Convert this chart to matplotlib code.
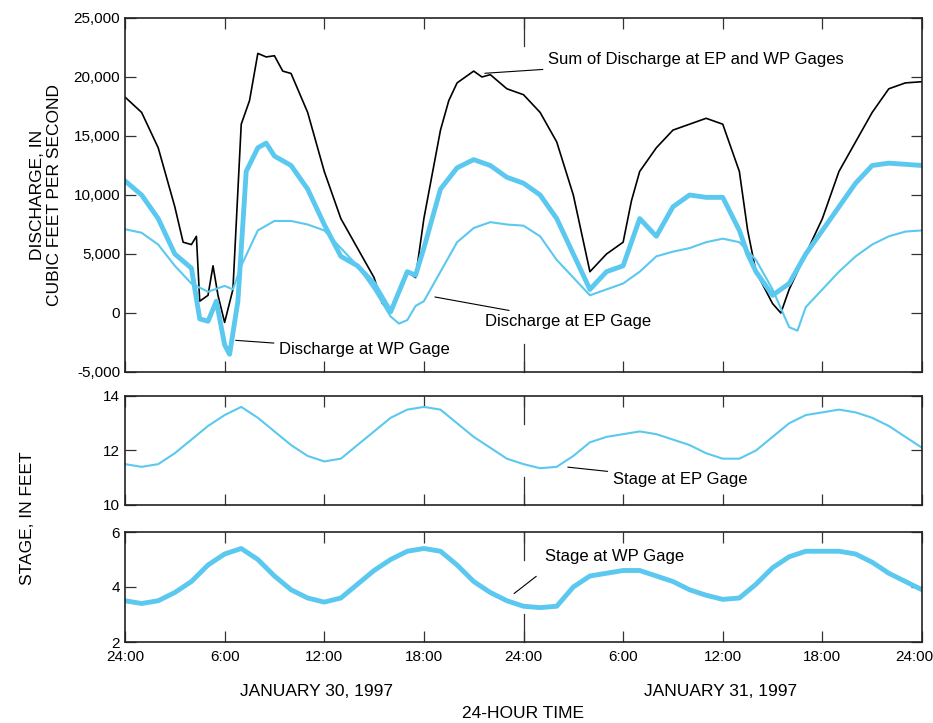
import matplotlib
matplotlib.use("Agg")
import matplotlib.pyplot as plt
from matplotlib.ticker import FuncFormatter
from matplotlib.transforms import ScaledTranslation

plt.rcParams["font.family"] = ["Liberation Sans", "DejaVu Sans"]

CYAN = "#5bc8ef"

# hours since 24:00 Jan 29
sum_t = [0, 1, 2, 3, 3.5, 4, 4.3, 4.5, 5, 5.3, 5.6, 6, 6.5, 7, 7.5, 8, 8.5, 9, 9.5, 10, 11, 12, 13, 14, 15, 15.5,
         16, 16.5, 17, 17.5, 18, 19, 19.5, 20, 21, 21.5, 22, 23, 24, 25, 26, 27, 28, 29, 30, 30.5, 31, 32, 33,
         34, 35, 36, 37, 37.5, 38, 39, 39.5, 40, 41, 42, 43, 44, 45, 46, 47, 48]
sum_q = [18300, 17000, 14000, 9000, 6000, 5800, 6500, 1000, 1500, 4000, 1500, -800, 2000, 16000, 18000,
         22000, 21700, 21800, 20500, 20300, 17000, 12000, 8000, 5500, 3000, 800, 200, 2000, 3500, 3000, 8000, 15500,
         18000, 19500, 20500, 20000, 20200, 19000, 18500, 17000, 14500, 10000, 3500, 5000, 6000, 9500, 12000,
         14000, 15500, 16000, 16500, 16000, 12000, 7000, 3500, 800, 0, 2000, 5000, 8000, 12000, 14500,
         17000, 19000, 19500, 19600]

wp_t = [0, 1, 2, 3, 4, 4.5, 5, 5.5, 6, 6.3, 6.8, 7.3, 8, 8.5, 9, 10, 11, 12, 13, 14, 15, 16, 17, 17.5,
        18, 19, 20, 21, 22, 23, 24, 25, 26, 27, 28, 29, 30, 31, 32, 33, 34, 35, 36, 37, 37.5, 38, 39,
        40, 41, 42, 43, 44, 45, 46, 47, 48]
wp_q = [11200, 10000, 8000, 5000, 3800, -500, -700, 1000, -2700, -3500, 1000, 12000, 14000, 14400, 13300,
        12500, 10500, 7500, 4800, 4000, 2500, 100, 3500, 3200, 5500, 10500, 12300, 13000, 12500, 11500,
        11000, 10000, 8000, 5000, 2000, 3500, 4000, 8000, 6500, 9000, 10000, 9800, 9800, 7000, 5000,
        3500, 1500, 2500, 5000, 7000, 9000, 11000, 12500, 12700, 12600, 12500]

ep_t = [0, 1, 2, 3, 4, 5, 6, 6.5, 7, 8, 9, 10, 11, 12, 13, 14, 15, 16, 16.5, 17, 17.5, 18, 19, 20, 21,
        22, 23, 24, 25, 26, 27, 28, 29, 30, 31, 32, 33, 34, 35, 36, 37, 38, 39, 40, 40.5, 41, 42, 43,
        44, 45, 46, 47, 48]
ep_q = [7100, 6800, 5800, 4000, 2500, 1800, 2300, 2000, 4000, 7000, 7800, 7800, 7500, 7000, 5500, 4000,
        2000, -300, -900, -600, 600, 1000, 3500, 6000, 7200, 7700, 7500, 7400, 6500, 4500, 3000, 1500,
        2000, 2500, 3500, 4800, 5200, 5500, 6000, 6300, 6000, 4500, 2000, -1200, -1500, 500, 2000, 3500,
        4800, 5800, 6500, 6900, 7000]

stage_t = list(range(49))
stage_ep = [11.5, 11.4, 11.5, 11.9, 12.4, 12.9, 13.3, 13.6, 13.2, 12.7, 12.2, 11.8, 11.6, 11.7, 12.2,
            12.7, 13.2, 13.5, 13.6, 13.5, 13.0, 12.5, 12.1, 11.7, 11.5, 11.35, 11.4, 11.8, 12.3, 12.5,
            12.6, 12.7, 12.6, 12.4, 12.2, 11.9, 11.7, 11.7, 12.0, 12.5, 13.0, 13.3, 13.4, 13.5, 13.4,
            13.2, 12.9, 12.5, 12.1]
stage_wp = [3.5, 3.4, 3.5, 3.8, 4.2, 4.8, 5.2, 5.4, 5.0, 4.4, 3.9, 3.6, 3.45, 3.6, 4.1, 4.6, 5.0, 5.3,
            5.4, 5.3, 4.8, 4.2, 3.8, 3.5, 3.3, 3.25, 3.3, 4.0, 4.4, 4.5, 4.6, 4.6, 4.4, 4.2, 3.9, 3.7,
            3.55, 3.6, 4.1, 4.7, 5.1, 5.3, 5.3, 5.3, 5.2, 4.9, 4.5, 4.2, 3.9]

xticks = [0, 6, 12, 18, 24, 30, 36, 42, 48]
xlabels = ["24:00", "6:00", "12:00", "18:00", "24:00", "6:00", "12:00", "18:00", "24:00"]

W, H = 933, 723
fig = plt.figure(figsize=(W / 100, H / 100), dpi=100)


def box(l, t, r, b):
    return [l / W, 1 - b / H, (r - l) / W, (b - t) / H]


ax1 = fig.add_axes(box(125, 18, 922, 372))
ax2 = fig.add_axes(box(125, 396, 922, 505))
ax3 = fig.add_axes(box(125, 532, 922, 642))

for ax in (ax1, ax2, ax3):
    ax.set_xlim(0, 48)
    ax.set_xticks(xticks)
    # long day-boundary ticks at midnight
    frac = 28 / (ax.bbox.height)
    tr = ax.get_xaxis_transform()
    ax.plot([24, 24], [0, frac], color="#333333", lw=0.9, transform=tr, clip_on=False)
    ax.plot([24, 24], [1 - frac, 1], color="#333333", lw=0.9, transform=tr, clip_on=False)
    ax.tick_params(direction="in", length=8, width=0.9, labelsize=11, top=True, right=True,
                   color="#333333")
    ax.set_xticklabels([])
    for s in ax.spines.values():
        s.set_linewidth(1.2)
        s.set_color("#222222")

ax1.plot(sum_t, sum_q, color="black", lw=1.2)
ax1.plot(ep_t, ep_q, color=CYAN, lw=1.5)
ax1.plot(wp_t, wp_q, color=CYAN, lw=3.5)
ax1.set_ylim(-5000, 25000)
ax1.set_yticks(range(-5000, 25001, 5000))
ax1.yaxis.set_major_formatter(FuncFormatter(lambda v, p: f"{int(v):,}"))
ax1.set_ylabel("DISCHARGE, IN\nCUBIC FEET PER SECOND", fontsize=12.5, labelpad=8)

ann = dict(fontsize=12, va="center", ha="left")
line = dict(arrowstyle="-", lw=0.8)
ax1.annotate("Sum of Discharge at EP and WP Gages", xy=(21.5, 20300), xytext=(25.5, 21500),
             arrowprops=line, **ann)
ax1.annotate("Discharge at EP Gage", xy=(18.5, 1400), xytext=(21.7, -700), arrowprops=line, **ann)
ax1.annotate("Discharge at WP Gage", xy=(6.5, -2300), xytext=(9.3, -3100), arrowprops=line, **ann)

ax2.plot(stage_t, stage_ep, color=CYAN, lw=1.5)
ax2.set_ylim(10, 14)
ax2.set_yticks([10, 12, 14])
ax2.annotate("Stage at EP Gage", xy=(26.5, 11.4), xytext=(29.4, 10.95), arrowprops=line, **ann)

ax3.plot(stage_t, stage_wp, color=CYAN, lw=3.5)
ax3.set_ylim(2, 6)
ax3.set_yticks([2, 4, 6])
ax3.set_xticklabels(xlabels)
ax3.tick_params(axis="x", pad=6)
last = ax3.get_xticklabels()[-1]
last.set_ha("right")
last.set_transform(last.get_transform() + ScaledTranslation(0.11, 0, fig.dpi_scale_trans))
ax3.annotate("", xy=(23.3, 3.7), xytext=(24.9, 4.45), arrowprops=line)
ax3.text(25.3, 5.1, "Stage at WP Gage", **ann)

fig.text(27 / W, 1 - 518 / H, "STAGE, IN FEET", rotation=90, fontsize=12.5, ha="center", va="center")
fig.text(316 / W, 1 - 691 / H, "JANUARY 30, 1997", fontsize=12.5, ha="center", va="center")
fig.text(721 / W, 1 - 691 / H, "JANUARY 31, 1997", fontsize=12.5, ha="center", va="center")
fig.text(523 / W, 1 - 713 / H, "24-HOUR TIME", fontsize=12.5, ha="center", va="center")

fig.savefig("out.png", dpi=100)
